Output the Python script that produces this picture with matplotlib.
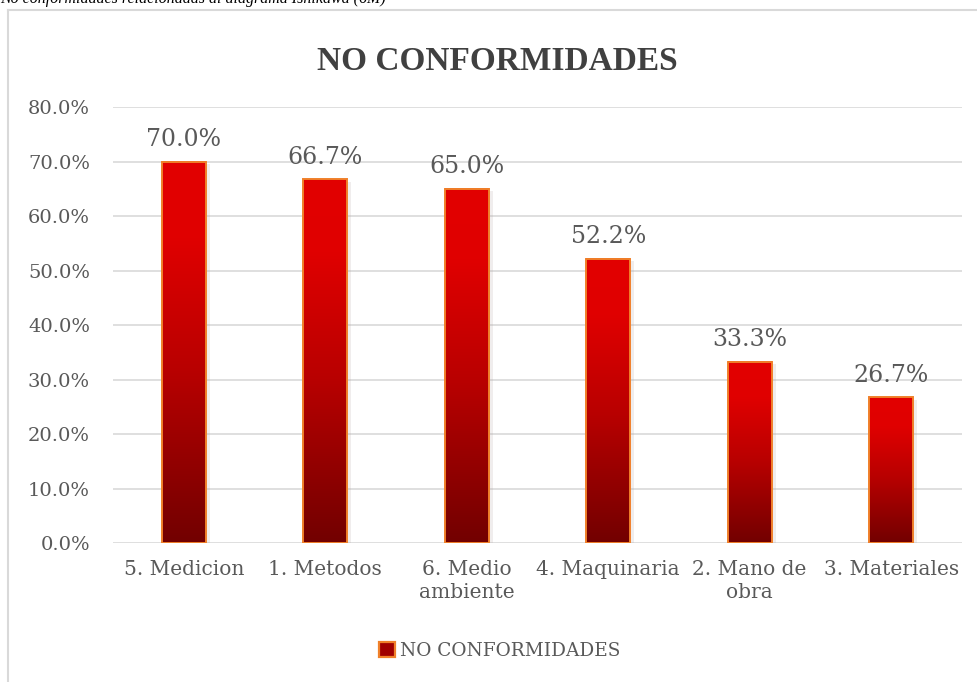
import numpy as np
import matplotlib
matplotlib.use('Agg')
import matplotlib.pyplot as plt
from matplotlib.colors import LinearSegmentedColormap
from matplotlib.patches import Rectangle
from matplotlib.lines import Line2D

categorias = ['5. Medicion', '1. Metodos', '6. Medio\nambiente', '4. Maquinaria',
              '2. Mano de\nobra', '3. Materiales']
valores = [70.0, 66.7, 65.0, 52.2, 33.3, 26.7]
yticks = [0, 10, 20, 30, 40, 50, 60, 70, 80]

plt.rcParams['font.family'] = ['DejaVu Serif']
gris = '#595959'

fig = plt.figure(figsize=(9.78, 6.82), dpi=100)
ax = fig.add_axes([0.1155, 0.2038, 0.868, 0.6393])

# marco del grafico (solo arriba e izquierda visibles)
fig.add_artist(Line2D([8 / 978, 1.0], [1 - 10 / 682, 1 - 10 / 682], transform=fig.transFigure,
                      color='#d9d9d9', lw=1.5))
fig.add_artist(Line2D([8 / 978, 8 / 978], [0, 1 - 10 / 682], transform=fig.transFigure,
                      color='#d9d9d9', lw=1.5))

# leyenda de la figura del documento (recortada arriba, como en el original)
fig.text(0.0, 1 - 3 / 682, 'No conformidades relacionadas al diagrama Ishikawa (6M)',
         fontsize=11.5, style='italic', color='black', va='baseline', ha='left',
         family='Liberation Serif')

cmap = LinearSegmentedColormap.from_list('rojo', [(0, '#720000'), (0.45, '#b80000'),
                                                  (0.8, '#e00000'), (1, '#e20000')])
grad = np.linspace(0, 1, 256).reshape(-1, 1)

x = np.arange(len(categorias))
ancho = 0.31
for xi, v in zip(x, valores):
    # sombra suave
    ax.add_patch(Rectangle((xi - ancho / 2 + 0.03, 0), ancho, v - 0.4, facecolor='#b0a0a0',
                           alpha=0.18, lw=0, zorder=2))
    ax.imshow(grad, extent=(xi - ancho / 2, xi + ancho / 2, 0, v), origin='lower',
              aspect='auto', cmap=cmap, zorder=3)
    ax.add_patch(Rectangle((xi - ancho / 2, 0), ancho, v, facecolor='none',
                           edgecolor='#f0802a', lw=1.4, zorder=4))
    ax.text(xi, v + 2.8, f'{v:.1f}%', ha='center', va='baseline', fontsize=17, color=gris)

ax.set_xlim(-0.5, len(categorias) - 0.5)
ax.set_ylim(0, 80)
ax.set_yticks(yticks)
ax.set_yticklabels([f'{t:.1f}%' for t in yticks], fontsize=14, color=gris)
ax.set_xticks(x)
ax.set_xticklabels(categorias, fontsize=14.5, color=gris, linespacing=1.3, va='top')
ax.tick_params(axis='y', length=0, pad=16.5)
ax.tick_params(axis='x', length=0, pad=12)
for s in ax.spines.values():
    s.set_visible(False)
ax.grid(axis='y', color='#d9d9d9', lw=1.2, zorder=0)
ax.set_axisbelow(True)

fig.text(0.5087, 1 - 62 / 682, 'NO CONFORMIDADES', ha='center', va='center', fontsize=24,
         fontweight='bold', color='#404040', family='Liberation Serif')

handle = Rectangle((0, 0), 1, 1, facecolor='#a00000', edgecolor='#f0802a', lw=1.6)
fig.legend([handle], ['NO CONFORMIDADES'], loc='center', bbox_to_anchor=(0.511, 1 - 651 / 682),
           frameon=False, fontsize=13.3, labelcolor=gris, handlelength=0.85, handleheight=0.85,
           handletextpad=0.3)

fig.savefig('out.png', dpi=100)
